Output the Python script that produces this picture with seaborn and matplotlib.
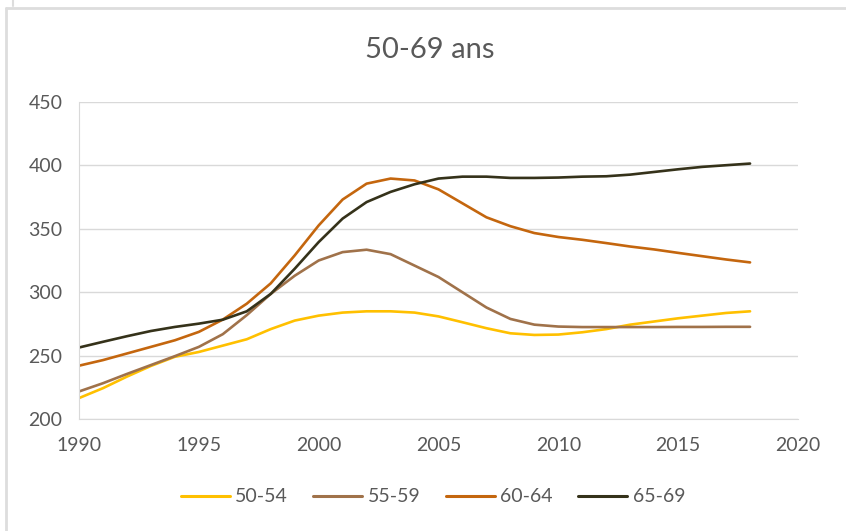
import matplotlib
matplotlib.use("Agg")
import matplotlib.pyplot as plt
from matplotlib.lines import Line2D
import pandas as pd
import seaborn as sns

years = list(range(1990, 2019))

age_50_54 = [216.7, 224.5, 233.6, 242.0, 249.2, 253.0, 258.0, 263.0, 271.0, 277.7,
             281.6, 284.0, 285.0, 285.0, 284.0, 281.0, 276.4, 271.7, 267.7, 266.4,
             266.7, 268.5, 271.0, 274.5, 277.0, 279.5, 281.6, 283.7, 285.0]
age_55_59 = [221.9, 228.4, 235.7, 242.7, 249.7, 257.0, 267.0, 282.0, 298.7, 313.0,
             325.0, 331.6, 333.5, 330.0, 321.0, 312.0, 300.0, 288.0, 279.0, 274.5,
             273.0, 272.6, 272.6, 272.6, 272.6, 272.7, 272.7, 272.8, 272.8]
age_60_64 = [242.2, 246.6, 251.8, 257.0, 262.2, 268.8, 278.5, 291.0, 307.0, 329.0,
             352.6, 373.0, 385.5, 389.5, 388.0, 381.0, 370.0, 359.0, 352.0, 346.6,
             343.5, 341.3, 338.7, 336.0, 333.7, 331.0, 328.4, 325.8, 323.5]
age_65_69 = [256.5, 261.0, 265.4, 269.5, 272.7, 275.3, 278.4, 285.0, 298.7, 318.5,
             339.5, 358.0, 371.0, 379.0, 385.0, 389.5, 391.0, 391.0, 390.0, 390.0,
             390.3, 391.0, 391.3, 392.6, 394.7, 396.8, 398.7, 400.0, 401.3]

groups = ["50-54", "55-59", "60-64", "65-69"]
colors = ["#FFC000", "#A0724A", "#C4660E", "#35321A"]

df = pd.concat([
    pd.DataFrame({"annee": years, "valeur": vals, "groupe": g})
    for g, vals in zip(groups, [age_50_54, age_55_59, age_60_64, age_65_69])
])

sns.set_style("white")
plt.rcParams["font.family"] = ["Lato", "DejaVu Sans"]
grey = "#595959"

fig = plt.figure(figsize=(8.46, 5.31), dpi=100)
ax = fig.add_axes([79 / 846, 1 - 419.3 / 531, (798 - 79) / 846, (419.3 - 101.7) / 531])

sns.lineplot(data=df, x="annee", y="valeur", hue="groupe", hue_order=groups,
             palette=dict(zip(groups, colors)), linewidth=1.9, ax=ax, legend=False)
for line in ax.lines:
    line.set_solid_joinstyle("round")
    line.set_solid_capstyle("round")

ax.set_xlim(1990, 2020)
ax.set_ylim(200, 450)
ax.set_xticks(range(1990, 2021, 5))
ax.set_yticks(range(200, 451, 50))
ax.yaxis.grid(True, color="#D9D9D9", linewidth=1)
ax.set_axisbelow(True)
for s in ["top", "right"]:
    ax.spines[s].set_visible(False)
ax.spines["left"].set_color("#D9D9D9")
ax.spines["bottom"].set_color("#D9D9D9")
ax.tick_params(length=0, labelsize=14, labelcolor=grey)
ax.tick_params(axis="y", pad=12)
ax.tick_params(axis="x", pad=13)
ax.set_xlabel("")
ax.set_ylabel("")

fig.text(430 / 846, 1 - 50 / 531, "50-69 ans", ha="center", va="center",
         fontsize=21, color=grey)

handles = [Line2D([], [], color=c, linewidth=2.2) for c in colors]
fig.legend(handles, groups, loc="center", bbox_to_anchor=(433 / 846, 1 - 497 / 531),
           ncol=4, frameon=False, fontsize=14, labelcolor=grey, handlelength=2.5,
           handletextpad=0.3, columnspacing=1.3)

# cadre gris du graphique
fig.add_artist(Line2D([6 / 846, 1], [1 - 7.5 / 531, 1 - 7.5 / 531], color="#DDDDDD", linewidth=2))
fig.add_artist(Line2D([6 / 846, 6 / 846], [0, 1 - 7.5 / 531], color="#DDDDDD", linewidth=2))
fig.add_artist(Line2D([13 / 846, 13 / 846], [1 - 6 / 531, 1], color="#DDDDDD", linewidth=1.5))

fig.savefig("out.png", dpi=100)
